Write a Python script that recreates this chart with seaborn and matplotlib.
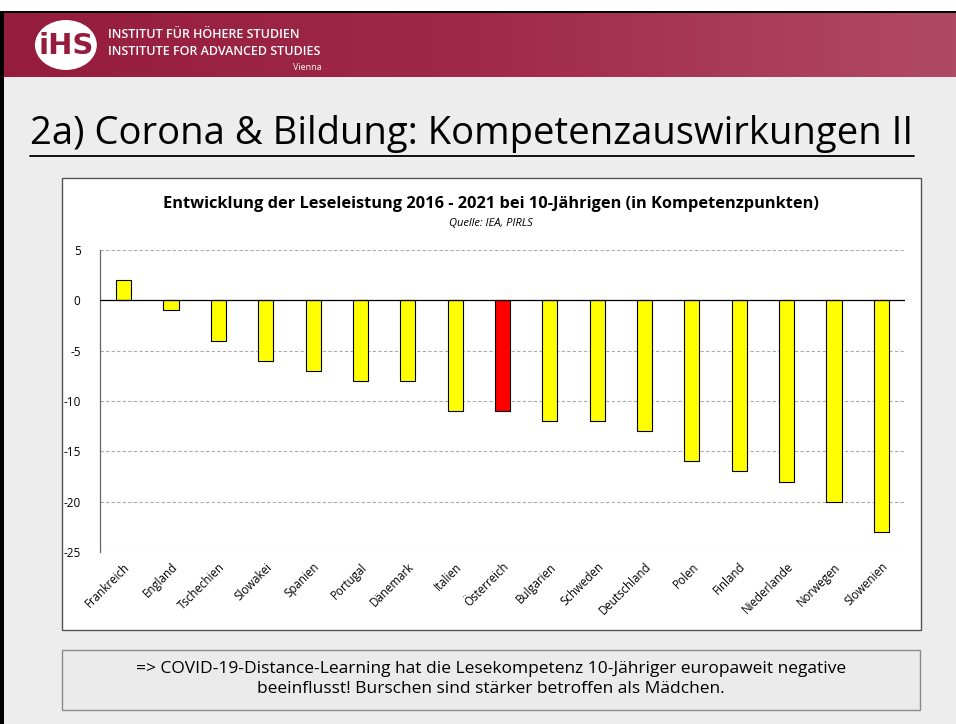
import numpy as np
import pandas as pd
import matplotlib
matplotlib.use("Agg")
import matplotlib.pyplot as plt
import matplotlib.patches as mpatches
import seaborn as sns

# Data
countries = ['Frankreich', 'England', 'Tschechien', 'Slowakei', 'Spanien', 'Portugal',
             'Dänemark', 'Italien', 'Österreich', 'Bulgarien', 'Schweden', 'Deutschland',
             'Polen', 'Finland', 'Niederlande', 'Norwegen', 'Slowenien']
change = [2, -1, -4, -6, -7, -8, -8, -11, -11, -12, -12, -13, -16, -17, -18, -20, -23]
highlight = 'Österreich'
y_ticks = [5, 0, -5, -10, -15, -20, -25]

chart_title = 'Entwicklung der Leseleistung 2016 - 2021 bei 10-Jährigen (in Kompetenzpunkten)'
chart_source = 'Quelle: IEA, PIRLS'
slide_title = '2a) Corona & Bildung: Kompetenzauswirkungen II'
note = ('=> COVID-19-Distance-Learning hat die Lesekompetenz 10-Jähriger europaweit negative\n'
        'beeinflusst! Burschen sind stärker betroffen als Mädchen.')

df = pd.DataFrame({'Land': countries, 'Punkte': change})
colors = {c: ('#ff0000' if c == highlight else '#ffff00') for c in countries}

sns.set_theme(style="white")
plt.rcParams['font.family'] = ['Open Sans', 'DejaVu Sans']
plt.rcParams['text.color'] = 'black'
plt.rcParams['xtick.color'] = 'black'
plt.rcParams['ytick.color'] = 'black'

W, H = 956, 724
fig = plt.figure(figsize=(W / 100, H / 100), dpi=100, facecolor='#ededed')

def fx(px):
    return px / W

def fy(py):
    return 1 - py / H

# slide decoration: white top strip, black frame, red header band
fig.patches.append(mpatches.Rectangle((0, fy(11)), 1, 11 / H, transform=fig.transFigure,
                                      facecolor='white', edgecolor='none', zorder=0))
fig.patches.append(mpatches.Rectangle((0, fy(13)), 1, 2.5 / H, transform=fig.transFigure,
                                      facecolor='black', edgecolor='none', zorder=1))
fig.patches.append(mpatches.Rectangle((0, 0), 4 / W, fy(11), transform=fig.transFigure,
                                      facecolor='black', edgecolor='none', zorder=1))
hdr = fig.add_axes([fx(4), fy(77), 1 - fx(4), (77 - 13) / H])
grad = np.linspace(0, 1, 256).reshape(1, -1)
hdr.imshow(grad, aspect='auto', cmap=matplotlib.colors.LinearSegmentedColormap.from_list(
    'hdr', ['#951c3d', '#a0294a', '#b04a64']), extent=[0, 1, 0, 1])
hdr.set_xlim(0, 1)
hdr.set_ylim(0, 1)
hdr.axis('off')
# logo
hdr.add_patch(mpatches.Ellipse((0.065, 0.5), 0.065, 0.78, facecolor='white', edgecolor='none'))
hdr.text(0.065, 0.48, 'iHS', color='#951c3d', fontsize=21, fontweight='bold',
         ha='center', va='center', family='DejaVu Sans')
hdr.text(0.109, 0.66, 'INSTITUT FÜR HÖHERE STUDIEN', color='white', fontsize=9,
         ha='left', va='center', fontweight='semibold')
hdr.text(0.109, 0.40, 'INSTITUTE FOR ADVANCED STUDIES', color='white', fontsize=9,
         ha='left', va='center', fontweight='semibold')
hdr.text(0.334, 0.15, 'Vienna', color='white', fontsize=6.5, ha='right', va='center')

# slide title
fig.text(fx(30), fy(134), slide_title, fontsize=27.5, ha='left', va='center',
         color='black')
fig.add_artist(plt.Line2D([fx(30), fx(914)], [fy(156), fy(156)], color='black', lw=1.3,
                          transform=fig.transFigure))

# chart frame
fig.patches.append(mpatches.Rectangle((fx(62), fy(630)), fx(921 - 62), (630 - 178) / H,
                                      transform=fig.transFigure, facecolor='white',
                                      edgecolor='#555555', lw=1, zorder=1))
fig.text(fx(491), fy(204), chart_title, fontsize=11.8, fontweight='bold', ha='center',
         va='center', zorder=3)
fig.text(fx(491), fy(223), chart_source, fontsize=8, style='italic', ha='center',
         va='center', zorder=3)

ax = fig.add_axes([fx(100), fy(552), fx(905 - 100), (552 - 250) / H], zorder=2)
ax.set_facecolor('none')
sns.barplot(data=df, x='Land', y='Punkte', hue='Land', palette=colors, legend=False,
            saturation=1, width=0.32, edgecolor='black', linewidth=0.8, ax=ax, zorder=3)
ax.set_ylim(-25, 5)
ax.set_xlim(-0.5, len(countries) - 0.5)
ax.set_yticks(y_ticks)
ax.set_yticklabels([str(t) for t in y_ticks], fontsize=8.5)
for t in y_ticks:
    if t != 0:
        ax.axhline(t, color='#ababab', lw=0.8, ls=(0, (3, 2)), zorder=1)
ax.axhline(0, color='black', lw=0.9, zorder=4)
for s in ['top', 'right', 'bottom']:
    ax.spines[s].set_visible(False)
ax.spines['left'].set_color('#666666')
ax.spines['left'].set_linewidth(0.9)
ax.tick_params(axis='y', length=0, pad=14)
ax.tick_params(axis='x', length=0, pad=6)
ax.set_xticks(range(len(countries)))
ax.set_xticklabels(countries, rotation=45, ha='right', rotation_mode='anchor', fontsize=8.3)
ax.set_xlabel('')
ax.set_ylabel('')

# note box
fig.patches.append(mpatches.Rectangle((fx(62), fy(710)), fx(920 - 62), (710 - 650) / H,
                                      transform=fig.transFigure, facecolor='#ebebeb',
                                      edgecolor='#8a8a8a', lw=1, zorder=1))
fig.text(fx(491), fy(679), note, fontsize=12.5, ha='center', va='center', linespacing=1.35,
         zorder=3)

fig.savefig('out.png', dpi=100, facecolor=fig.get_facecolor())
